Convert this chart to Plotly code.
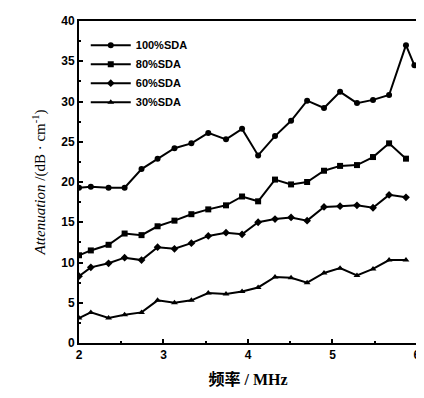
import plotly.graph_objects as go

freq = [2.0, 2.14, 2.35, 2.54, 2.74, 2.93, 3.13, 3.33, 3.53, 3.74, 3.93,
        4.12, 4.32, 4.51, 4.70, 4.90, 5.09, 5.29, 5.48, 5.67, 5.87]
freq_100 = freq + [5.97]
sda_100 = [19.3, 19.4, 19.3, 19.3, 21.6, 22.9, 24.2, 24.8, 26.1, 25.3, 26.6,
           23.3, 25.7, 27.6, 30.1, 29.2, 31.2, 29.8, 30.2, 30.8, 37.0, 34.5]
sda_80 = [10.9, 11.5, 12.2, 13.6, 13.4, 14.5, 15.2, 16.0, 16.6, 17.1, 18.2,
          17.6, 20.3, 19.7, 20.0, 21.4, 22.0, 22.1, 23.1, 24.8, 22.9]
sda_60 = [8.3, 9.4, 9.9, 10.6, 10.3, 11.9, 11.7, 12.4, 13.3, 13.7, 13.5,
          15.0, 15.4, 15.6, 15.2, 16.9, 17.0, 17.1, 16.8, 18.4, 18.1]
sda_30 = [3.1, 3.8, 3.1, 3.5, 3.8, 5.3, 5.0, 5.3, 6.2, 6.1, 6.4,
          6.9, 8.2, 8.1, 7.5, 8.7, 9.3, 8.4, 9.2, 10.3, 10.3]

names = ["100%SDA", "80%SDA", "60%SDA", "30%SDA"]
xs = [freq_100, freq, freq, freq]
ys = [sda_100, sda_80, sda_60, sda_30]
symbols = ["circle", "square", "diamond", "triangle-up"]
x_ticks = [2, 3, 4, 5, 6]
y_ticks = [0, 5, 10, 15, 20, 25, 30, 35, 40]

fig = go.Figure()
for n, x, y, s in zip(names, xs, ys, symbols):
    fig.add_trace(go.Scatter(
        x=x, y=y, name="<b>%s</b>" % n, mode="lines+markers",
        line=dict(color="black", width=2),
        marker=dict(symbol=s, size=6, color="black"),
    ))

fig.update_layout(
    width=416, height=390,
    margin=dict(l=71, r=7, t=13, b=55),
    paper_bgcolor="white", plot_bgcolor="white",
    showlegend=True,
    legend=dict(x=0.02, y=0.97, xanchor="left", yanchor="top",
                bgcolor="rgba(0,0,0,0)", borderwidth=0,
                font=dict(family="Liberation Sans, Arial", size=11, color="black"),
                itemwidth=40, tracegroupgap=2),
    font=dict(family="Liberation Sans, Arial", color="black"),
)
fig.update_xaxes(
    range=[2, 6.0005], tickvals=x_ticks,
    ticktext=["<b>%d</b>" % v for v in x_ticks],
    ticks="inside", ticklen=4, tickwidth=1.5, tickcolor="black",
    minor=dict(dtick=0.5, ticks="inside", ticklen=2, tickcolor="black"),
    showline=True, linecolor="black", linewidth=2, mirror=True,
    showgrid=False, zeroline=False, automargin=False,
    tickfont=dict(size=12, family="Liberation Sans, Arial"),
    title=dict(text="<b>频率 / MHz</b>",
               font=dict(size=16, family="Liberation Serif, Noto Sans CJK SC"),
               standoff=12),
)
fig.update_yaxes(
    range=[0, 40], tickvals=y_ticks,
    ticktext=["<b>%d</b>" % v for v in y_ticks],
    ticks="inside", ticklen=4, tickwidth=1.5, tickcolor="black",
    minor=dict(dtick=2.5, ticks="inside", ticklen=2, tickcolor="black"),
    showline=True, linecolor="black", linewidth=2, mirror=True,
    showgrid=False, zeroline=False, automargin=False,
    tickfont=dict(size=12, family="Liberation Sans, Arial"),
    title=dict(text="<i>Attenuation</i> /(dB · cm<sup>-1</sup>)",
               font=dict(size=15, family="Liberation Serif, Times New Roman"),
               standoff=12),
)
fig.write_html("out.html")
